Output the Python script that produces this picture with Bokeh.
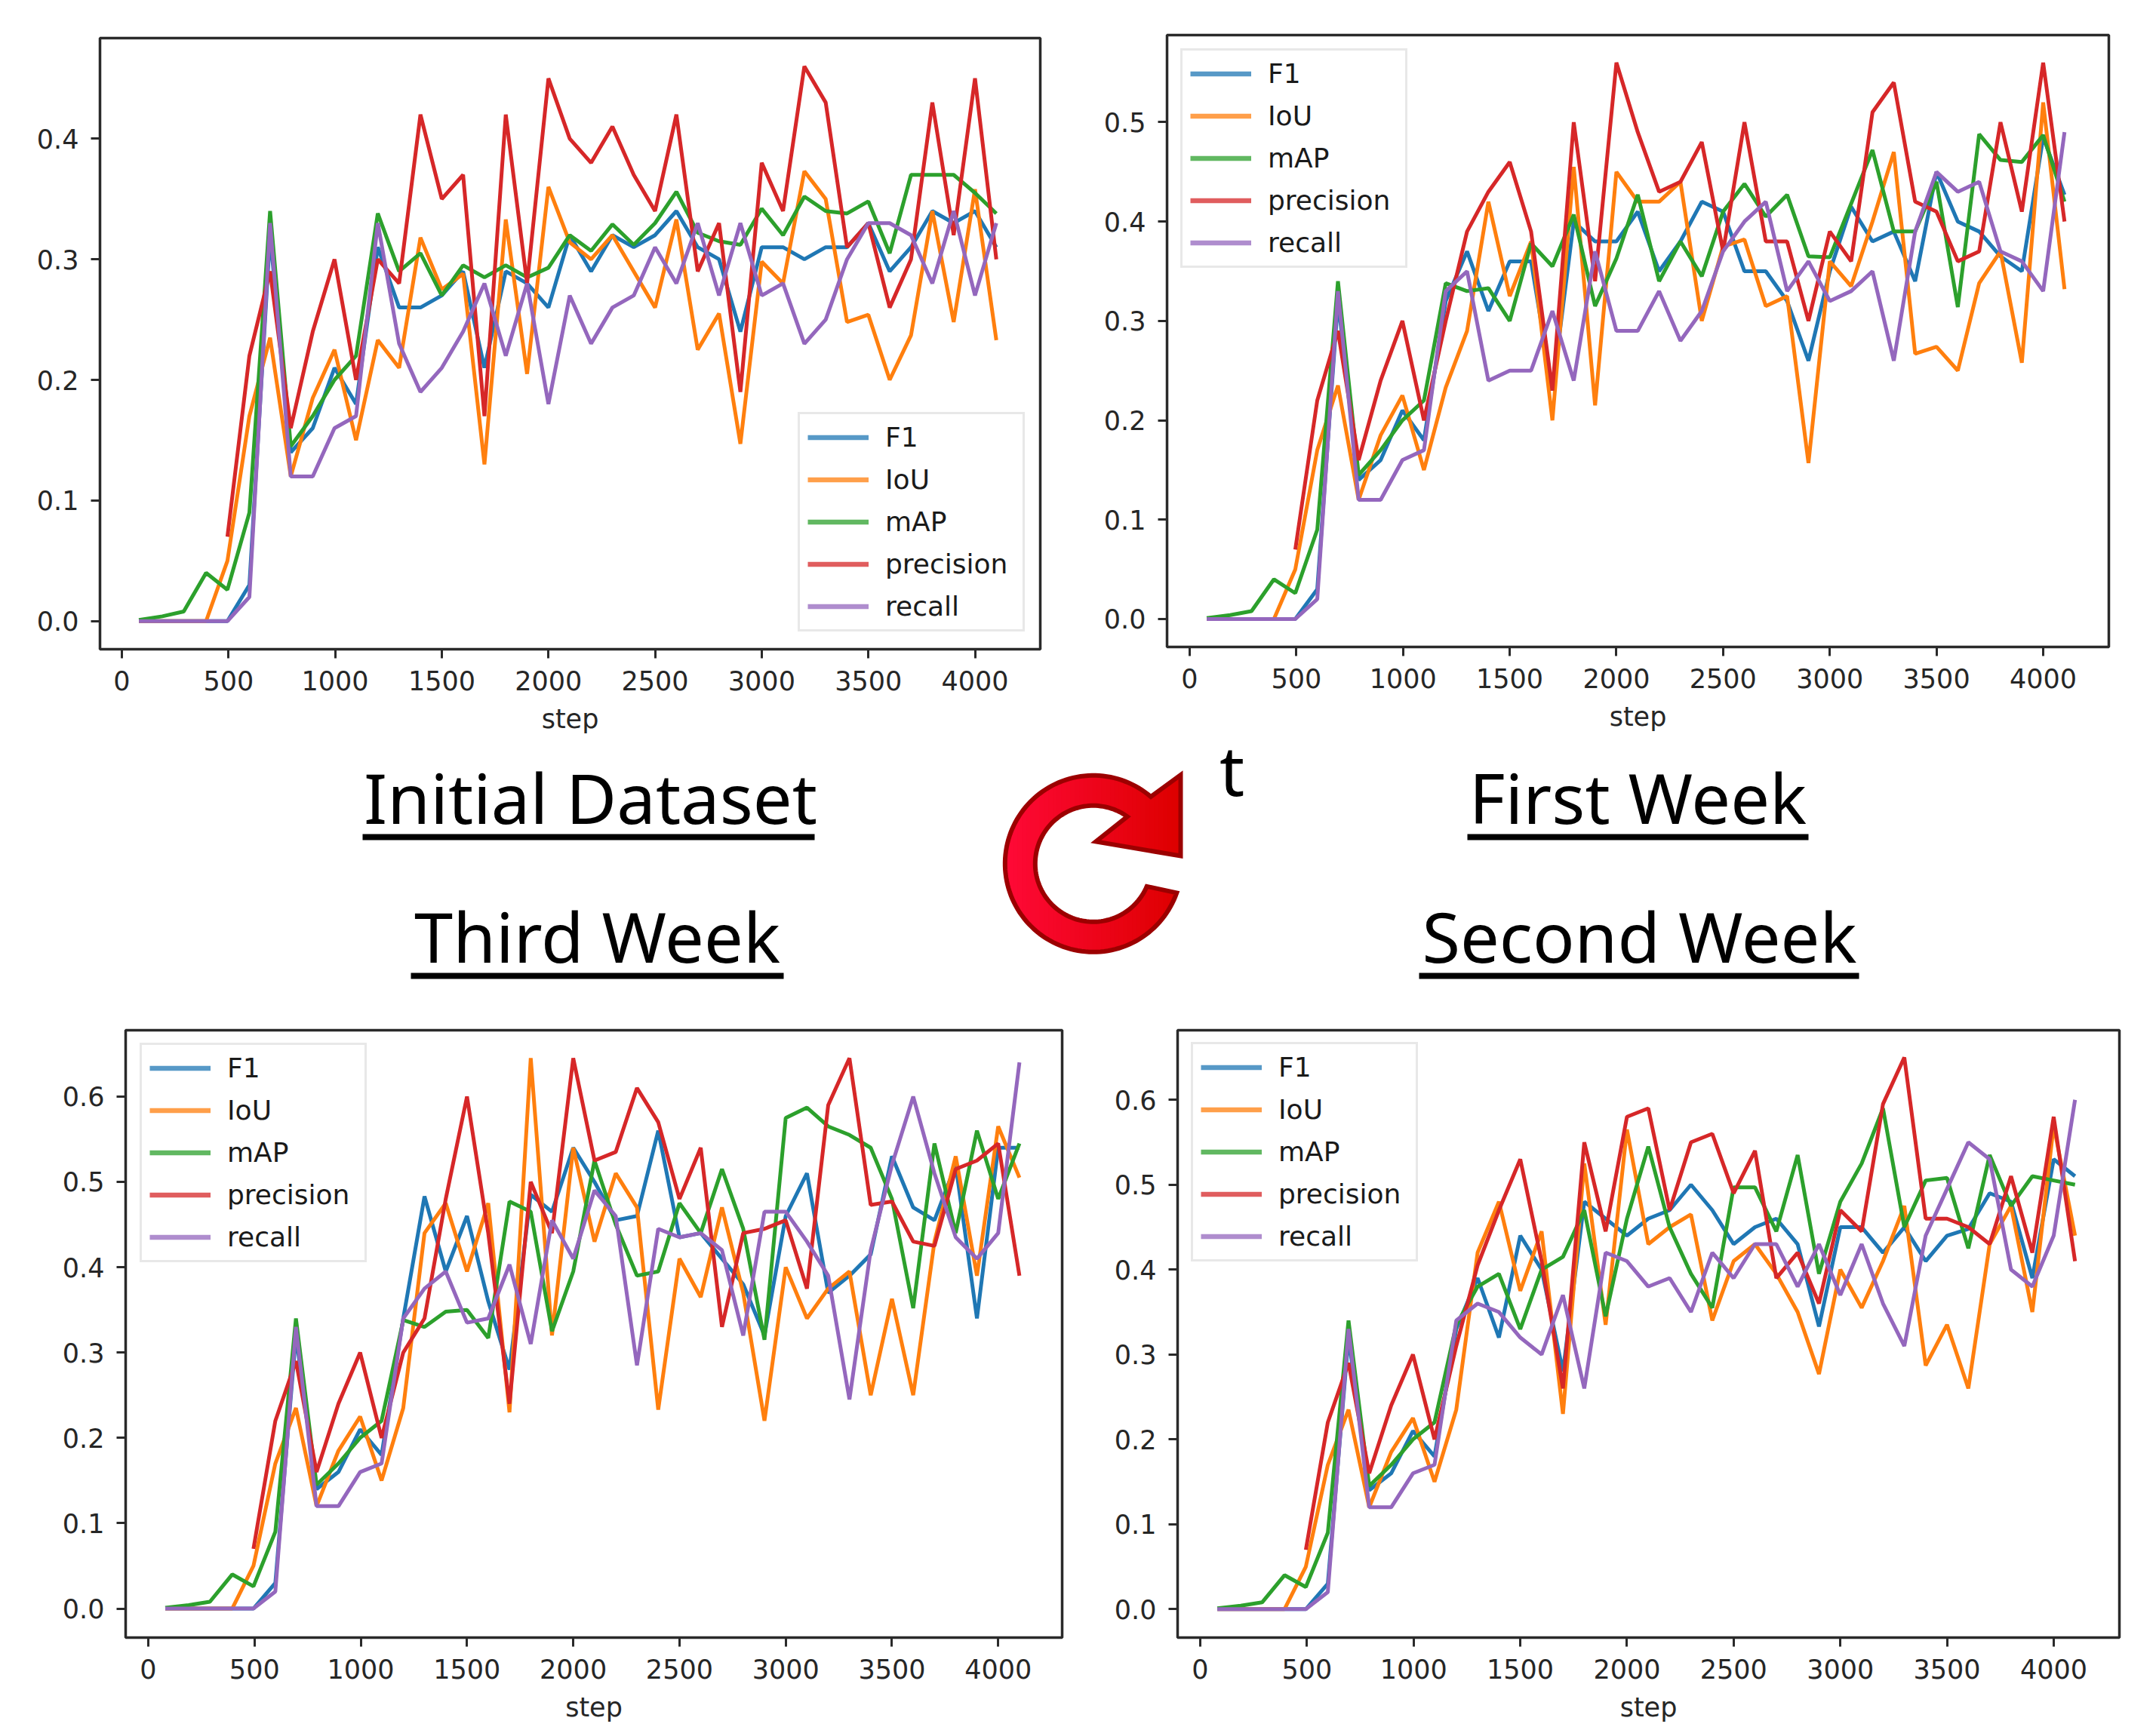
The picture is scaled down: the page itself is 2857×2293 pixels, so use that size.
from bokeh.plotting import figure
from bokeh.layouts import column, row
from bokeh.models import Range1d, FixedTicker, Legend, LegendItem, Spacer
from bokeh.core.properties import value
from bokeh.embed import file_html
from bokeh.resources import INLINE
import numpy as np

steps = [80, 190, 290, 395, 495, 598, 695, 792, 895, 997, 1098] + list(range(1200, 4200, 100))
steps_precision = steps[4:]
x_ticks = [0, 500, 1000, 1500, 2000, 2500, 3000, 3500, 4000]
x_labels = ["0", "500", "1000", "1500", "2000", "2500", "3000", "3500", "4000"]
series_names = ["F1", "IoU", "mAP", "precision", "recall"]
colors = ["#1f77b4", "#ff7f0e", "#2ca02c", "#d62728", "#9467bd"]

# common early part
f1_start = [0, 0, 0, 0, 0, 0.03, 0.32, 0.14, 0.16, 0.21, 0.18]
iou_start = [0, 0, 0, 0, 0.05, 0.17, 0.235, 0.12, 0.185, 0.225, 0.15]
map_start = [0.001, 0.004, 0.008, 0.04, 0.026, 0.09, 0.34, 0.145, 0.17, 0.20, 0.22]
prec_start = [0.07, 0.22, 0.29, 0.16, 0.24, 0.30, 0.20]
rec_start = [0, 0, 0, 0, 0, 0.02, 0.33, 0.12, 0.12, 0.16, 0.17]

# Initial Dataset, steps 1200..4100
init_f1 = [0.31,0.26,0.26,0.27,0.29,0.21,0.29,0.28,0.26,0.32,0.29,0.32,0.31,0.32,0.34,0.31,0.30,0.24,0.31,0.31,0.30,0.31,0.31,0.33,0.29,0.31,0.34,0.33,0.34,0.31]
init_iou = [0.233,0.21,0.318,0.275,0.288,0.13,0.333,0.205,0.36,0.314,0.30,0.32,0.29,0.26,0.333,0.225,0.255,0.147,0.298,0.28,0.373,0.35,0.248,0.254,0.20,0.237,0.34,0.248,0.358,0.233]
init_map = [0.338,0.29,0.305,0.27,0.295,0.285,0.295,0.285,0.293,0.32,0.307,0.329,0.312,0.33,0.356,0.322,0.315,0.312,0.342,0.32,0.352,0.34,0.338,0.348,0.305,0.37,0.37,0.37,0.355,0.338]
init_prec = [0.30,0.28,0.42,0.35,0.37,0.17,0.42,0.28,0.45,0.40,0.38,0.41,0.37,0.34,0.42,0.29,0.33,0.19,0.38,0.34,0.46,0.43,0.31,0.33,0.26,0.30,0.43,0.32,0.45,0.30]
init_rec = [0.33,0.23,0.19,0.21,0.24,0.28,0.22,0.28,0.18,0.27,0.23,0.26,0.27,0.31,0.28,0.33,0.27,0.33,0.27,0.28,0.23,0.25,0.30,0.33,0.33,0.32,0.28,0.34,0.27,0.33]

# First Week
first_f1 = [0.32,0.37,0.31,0.36,0.36,0.23,0.40,0.38,0.38,0.41,0.35,0.38,0.42,0.41,0.35,0.35,0.32,0.26,0.35,0.415,0.38,0.39,0.34,0.45,0.40,0.39,0.365,0.35,0.485,0.427]
first_iou = [0.233,0.29,0.42,0.325,0.38,0.20,0.455,0.215,0.45,0.42,0.42,0.44,0.30,0.375,0.382,0.315,0.325,0.157,0.36,0.335,0.40,0.47,0.267,0.274,0.25,0.338,0.37,0.258,0.52,0.332]
first_map = [0.338,0.33,0.333,0.30,0.378,0.355,0.407,0.315,0.363,0.427,0.34,0.38,0.345,0.41,0.438,0.405,0.427,0.365,0.364,0.418,0.472,0.39,0.39,0.44,0.314,0.488,0.462,0.46,0.487,0.42]
first_prec = [0.30,0.39,0.43,0.46,0.39,0.23,0.50,0.34,0.56,0.49,0.43,0.44,0.48,0.37,0.50,0.38,0.38,0.30,0.39,0.36,0.51,0.54,0.42,0.41,0.36,0.37,0.50,0.41,0.56,0.40]
first_rec = [0.33,0.35,0.24,0.25,0.25,0.31,0.24,0.37,0.29,0.29,0.33,0.28,0.31,0.37,0.40,0.42,0.33,0.36,0.32,0.33,0.35,0.26,0.39,0.45,0.43,0.44,0.37,0.36,0.33,0.49]

# Third Week
third_f1 = [0.34,0.483,0.395,0.46,0.36,0.28,0.485,0.465,0.54,0.50,0.455,0.46,0.56,0.435,0.44,0.41,0.38,0.32,0.46,0.51,0.37,0.39,0.415,0.53,0.47,0.455,0.52,0.34,0.54,0.54]
third_iou = [0.235,0.44,0.475,0.395,0.475,0.23,0.645,0.32,0.54,0.43,0.51,0.47,0.233,0.41,0.365,0.47,0.37,0.22,0.40,0.34,0.375,0.395,0.25,0.363,0.25,0.43,0.53,0.39,0.565,0.505]
third_map = [0.338,0.33,0.348,0.35,0.317,0.477,0.465,0.325,0.395,0.525,0.45,0.39,0.395,0.475,0.44,0.515,0.445,0.315,0.575,0.587,0.565,0.555,0.54,0.48,0.352,0.545,0.44,0.56,0.48,0.545]
third_prec = [0.30,0.34,0.48,0.60,0.44,0.24,0.50,0.44,0.645,0.525,0.535,0.61,0.57,0.48,0.54,0.33,0.44,0.445,0.455,0.375,0.59,0.645,0.473,0.477,0.43,0.425,0.515,0.525,0.545,0.39]
third_rec = [0.34,0.375,0.395,0.335,0.34,0.403,0.31,0.455,0.41,0.49,0.46,0.285,0.445,0.435,0.44,0.42,0.32,0.465,0.465,0.43,0.39,0.245,0.42,0.52,0.60,0.51,0.435,0.41,0.44,0.64]

# Second Week
second_f1 = [0.33,0.39,0.32,0.44,0.40,0.28,0.48,0.46,0.44,0.46,0.47,0.50,0.47,0.43,0.45,0.46,0.43,0.333,0.45,0.45,0.42,0.45,0.41,0.44,0.448,0.49,0.48,0.39,0.53,0.51]
second_iou = [0.235,0.42,0.48,0.375,0.445,0.23,0.525,0.335,0.565,0.43,0.45,0.465,0.34,0.41,0.43,0.395,0.35,0.277,0.40,0.355,0.41,0.475,0.287,0.335,0.26,0.43,0.475,0.35,0.57,0.44]
second_map = [0.335,0.38,0.395,0.33,0.40,0.415,0.47,0.345,0.46,0.545,0.45,0.395,0.355,0.497,0.497,0.445,0.535,0.395,0.48,0.525,0.59,0.45,0.505,0.508,0.425,0.535,0.475,0.51,0.505,0.50]
second_prec = [0.31,0.405,0.47,0.53,0.41,0.26,0.55,0.445,0.58,0.59,0.47,0.55,0.56,0.49,0.54,0.39,0.42,0.36,0.47,0.445,0.595,0.65,0.46,0.46,0.45,0.43,0.51,0.42,0.58,0.41]
second_rec = [0.34,0.36,0.35,0.32,0.30,0.37,0.26,0.42,0.41,0.38,0.39,0.35,0.42,0.39,0.43,0.43,0.38,0.43,0.37,0.43,0.36,0.31,0.44,0.495,0.55,0.53,0.40,0.38,0.44,0.60]

title_labels = ["Initial Dataset", "First Week", "Third Week", "Second Week"]
FONT = "DejaVu Sans"
TXT = "#262626"
FS = "35px"
LFS = "36px"


def panel(width, height, borders, xr, yr, yticks, series, legend_xy):
    l, r, t, b = borders
    p = figure(width=width, height=height, output_backend="svg", toolbar_location=None,
               x_range=Range1d(*xr), y_range=Range1d(*yr),
               min_border_left=l, min_border_right=r, min_border_top=t, min_border_bottom=b,
               background_fill_color="white", border_fill_color=None)
    p.grid.visible = False
    p.outline_line_color = "#2a2a2a"
    p.outline_line_width = 3.5
    p.xaxis.ticker = FixedTicker(ticks=x_ticks)
    p.yaxis.ticker = FixedTicker(ticks=yticks)
    p.xaxis.major_label_overrides = dict(zip(x_ticks, x_labels))
    p.yaxis.major_label_overrides = {v: f"{v:.1f}" for v in yticks}
    p.xaxis.axis_label = "step"
    p.xaxis.axis_label_text_font = FONT
    p.xaxis.axis_label_text_font_size = FS
    p.xaxis.axis_label_text_font_style = "normal"
    p.xaxis.axis_label_text_color = TXT
    p.xaxis.axis_label_standoff = 15
    for ax in (p.xaxis[0], p.yaxis[0]):
        ax.axis_line_color = None
        ax.major_tick_line_color = "#2a2a2a"
        ax.major_tick_line_width = 3
        ax.major_tick_out = 12
        ax.major_tick_in = 0
        ax.minor_tick_line_color = None
        ax.major_label_text_font = FONT
        ax.major_label_text_font_size = FS
        ax.major_label_text_color = TXT
    p.xaxis.major_label_standoff = 16
    p.yaxis.major_label_standoff = 16
    items = []
    nan2 = [float("nan"), float("nan")]
    for i, name in enumerate(series_names):
        xs = steps_precision if name == "precision" else steps
        p.line(xs, series[i], line_color=colors[i], line_width=5)
        h = p.line(nan2, nan2, line_color=colors[i], line_width=6.5, line_alpha=0.75)
        items.append(LegendItem(label=name, renderers=[h]))
    leg = Legend(items=items, location=legend_xy, orientation="vertical",
                 glyph_width=81, glyph_height=33, label_height=33, label_width=172,
                 label_standoff=22, spacing=15, padding=10, margin=0,
                 label_text_font=FONT, label_text_font_size=LFS, label_text_color="#1a1a1a",
                 border_line_color="#d2d2d2", border_line_width=3, background_fill_alpha=0.8)
    p.add_layout(leg, "center")
    return p


def full(start, rest):
    return start + rest


s_init = [full(f1_start, init_f1), full(iou_start, init_iou), full(map_start, init_map), full(prec_start, init_prec), full(rec_start, init_rec)]
s_first = [full(f1_start, first_f1), full(iou_start, first_iou), full(map_start, first_map), full(prec_start, first_prec), full(rec_start, first_rec)]
s_third = [full(f1_start, third_f1), full(iou_start, third_iou), full(map_start, third_map), full(prec_start, third_prec), full(rec_start, third_rec)]
s_second = [full(f1_start, second_f1), full(iou_start, second_iou), full(map_start, second_map), full(prec_start, second_prec), full(rec_start, second_rec)]

TOP_H = 977
MID_H = 363
BOT_H = 945
W = 2849
SPLIT_T = 1440
SPLIT_B = 1450
P1_DROP = 4
MID_OVERLAP = 40

p1 = panel(SPLIT_T, TOP_H - P1_DROP, (132, 62, 46, 117), (-102.5, 4306), (-0.0233, 0.4834),
           [0.0, 0.1, 0.2, 0.3, 0.4], s_init, (925, 23))
p2 = panel(W - SPLIT_T, TOP_H, (106, 55, 46, 120), (-106, 4307.7), (-0.0281, 0.5877),
           [0.0, 0.1, 0.2, 0.3, 0.4, 0.5], s_first, (18, 502))
p3 = panel(SPLIT_B, BOT_H, (166, 43, 25, 113), (-106.5, 4301), (-0.034, 0.6777),
           [0.0, 0.1, 0.2, 0.3, 0.4, 0.5, 0.6], s_third, (19, 497))
p4 = panel(W - SPLIT_B, BOT_H, (110, 41, 25, 109), (-106, 4308), (-0.0335, 0.682),
           [0.0, 0.1, 0.2, 0.3, 0.4, 0.5, 0.6], s_second, (18, 498))

# Middle band: page-pixel coordinates; it reaches up over the top row's empty lower edge
mid = figure(width=W, height=MID_H + MID_OVERLAP, output_backend="svg", toolbar_location=None,
             x_range=Range1d(0, W), y_range=Range1d(TOP_H + MID_H, TOP_H - MID_OVERLAP),
             min_border=0, border_fill_color=None, background_fill_color=None,
             margin=(-MID_OVERLAP, 0, 0, 0))
mid.axis.visible = False
mid.grid.visible = False
mid.outline_line_color = None

title_x = [782, 2170, 791, 2172]
title_y = [1056, 1056, 1240, 1240]
ul_x0 = [480, 1944, 544, 1880]
ul_x1 = [1079, 2396, 1038, 2463]
ul_y = [1109, 1109, 1293, 1293]
mid.text(title_x, title_y, text=title_labels, text_font=value("Noto Sans"), text_font_size="92px",
         text_align="center", text_baseline="alphabetic", text_color="black")
mid.segment(ul_x0, ul_y, ul_x1, ul_y, line_color="black", line_width=8)
mid.text([1632], [1019], text=["t"], text_font=value("Noto Sans"), text_font_size="92px",
         text_align="center", text_baseline="middle", text_color="black")

# Cycle arrow
cx, cy = 1448.3, 1144.3
R_out, R_in = 117.0, 77.0
a = lambda px, py: np.arctan2(py - cy, px - cx)
tail_o, tail_i = (1560.0, 1183.3), (1518.3, 1174.0)
head_o, head_i = (1525.0, 1055.0), (1491.7, 1084.0)
tip = [(1564.0, 1026.7), (1564.0, 1134.0), (1451.7, 1115.0)]
# outer arc runs from the tail through the bottom, left and top to the head
th = np.linspace(a(*tail_o), a(*head_o) + 2 * np.pi, 120)
ox, oy = cx + R_out * np.cos(th), cy + R_out * np.sin(th)
thi = np.linspace(a(*head_i) + 2 * np.pi, a(*tail_i), 120)
ix, iy = cx + R_in * np.cos(thi), cy + R_in * np.sin(thi)
poly_x = np.concatenate([ox, [t[0] for t in tip], ix])
poly_y = np.concatenate([oy, [t[1] for t in tip], iy])


def clip_left(xs, ys, xmin):
    out_x, out_y = [], []
    n = len(xs)
    for i in range(n):
        x0, y0, x1, y1 = xs[i], ys[i], xs[(i + 1) % n], ys[(i + 1) % n]
        in0, in1 = x0 >= xmin, x1 >= xmin
        if in0:
            out_x.append(x0); out_y.append(y0)
        if in0 != in1:
            t = (xmin - x0) / (x1 - x0)
            out_x.append(xmin); out_y.append(y0 + t * (y1 - y0))
    return out_x, out_y


cols_n = 40
edges = np.linspace(poly_x.min() - 1, poly_x.max(), cols_n, endpoint=False)
for k, e in enumerate(edges):
    f = k / (cols_n - 1)
    c = (255 + f * (222 - 255), 10 + f * (0 - 10), 55 + f * (0 - 55))
    xs, ys = clip_left(poly_x, poly_y, e)
    mid.patch(xs, ys, fill_color="#%02x%02x%02x" % tuple(int(v) for v in c), line_color=None)
mid.patch(poly_x, poly_y, fill_color=None, line_color="#9c0000", line_width=6, line_join="miter")

left_col = column(Spacer(width=SPLIT_T, height=P1_DROP), p1, spacing=0)
layout = column(row(left_col, p2, spacing=0), mid, row(p3, p4, spacing=0), spacing=0)
open("out.html", "w").write(file_html(layout, INLINE))
